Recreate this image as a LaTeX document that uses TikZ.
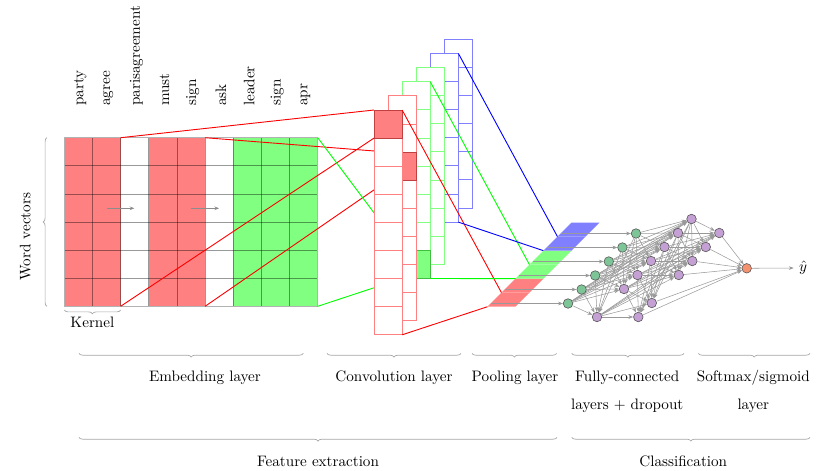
\documentclass[tikz,border=0pt]{standalone}
\usetikzlibrary{decorations.pathreplacing,arrows.meta}
\definecolor{gnodec}{RGB}{125,196,150}
\definecolor{pnodec}{RGB}{196,160,212}
\definecolor{onodec}{RGB}{244,146,112}
\pgfdeclarelayer{bg}
\pgfsetlayers{bg,main}
\begin{document}
\begin{tikzpicture}[x=0.66pt,y=-0.66pt,
  gridline/.style={draw=black,opacity=0.4,line width=0.45pt},
  gridframe/.style={draw=black!30,line width=0.9pt},
  kline/.style={line width=0.6pt},
  mapline/.style={line width=0.6pt},
  edge/.style={draw=black!40,line width=0.35pt,-{Stealth[length=3.2pt,width=2.4pt]}},
  garrow/.style={draw=black!45,line width=0.45pt,-{Stealth[length=3pt,width=2.4pt]}},
  gbrace/.style={draw=black!35,line width=0.45pt,decorate,decoration={brace,amplitude=2.5pt,mirror}},
  vbrace/.style={draw=black!35,line width=0.45pt,decorate,decoration={brace,amplitude=2.5pt}},
  nnode/.style={circle,draw=black!65,line width=0.4pt,inner sep=0pt,minimum size=6.3pt},
  gnode/.style={nnode,fill=gnodec},
  pnode/.style={nnode,fill=pnodec},
  onode/.style={nnode,fill=onodec},
  word/.style={rotate=90,anchor=west,inner sep=0pt},
  lbl/.style={anchor=base,inner sep=0pt},
]
\useasboundingbox (0,0) rectangle (818,471);

% ---------- embedding matrix ----------
\foreach \c in {0,1,3,4} \fill[red!50] ({64.3+\c*28.16},137.7) rectangle ++(28.16,168.6);
\foreach \c in {6,7,8} \fill[green!50] ({64.3+\c*28.16},137.7) rectangle ++(28.16,168.6);
\foreach \c in {1,...,8} \draw[gridline] ({64.3+\c*28.16},137.7) -- ++(0,168.6);
\foreach \r in {1,...,5} \draw[gridline] (64.3,{137.7+\r*28.1}) -- ++(253.44,0);
\draw[gridframe] (64.3,137.7) rectangle ++(253.44,168.6);

\foreach \w [count=\i from 0] in {party,agree,parisagreement,must,sign,ask,leader,sign,apr}
  \node[word] (w\i) at ({64.3+(\i+0.5)*28.16+1.8},106) {\w};

\coordinate (ar1s) at (106.7,208.3); \coordinate (ar1e) at (134.3,208.3);
\coordinate (ar2s) at (190.7,208.3); \coordinate (ar2e) at (219,208.3);
\draw[garrow] (ar1s) -- (ar1e);
\draw[garrow] (ar2s) -- (ar2e);

\coordinate (wvb) at (47,306.3); \coordinate (wvt) at (47,137.7);
\draw[vbrace] (wvb) -- (wvt);
\node[rotate=90,anchor=base,inner sep=0pt] (wv) at (30.5,236.7) {Word vectors};
\coordinate (kbl) at (64.3,310); \coordinate (kbr) at (120.62,310);
\draw[gbrace] (kbl) -- (kbr);
\node[lbl] (kern) at (92.4,327) {Kernel};

% ---------- key points ----------
\coordinate (k1t) at (120.62,137.7); \coordinate (k1b) at (120.62,306.3);
\coordinate (k2t) at (205.1,137.7);  \coordinate (k2b) at (205.1,306.3);
\coordinate (k3t) at (317.74,137.7); \coordinate (k3b) at (317.74,306.3);
\coordinate (c0t) at (374,110);      \coordinate (c0b) at (374,138.1);
\coordinate (c1t) at (388.07,152.08); \coordinate (c1b) at (388.07,180.18);
\coordinate (c2t) at (402.14,250.36); \coordinate (c2b) at (402.14,278.46);
\coordinate (s0t) at (402.14,110);   \coordinate (s0b) at (402.14,334.8);
\coordinate (s2t) at (430.28,81.76); \coordinate (s2b) at (430.28,278.46);
\coordinate (s4t) at (458.42,53.52); \coordinate (s4b) at (458.42,222.12);
\coordinate (q0b) at (487.5,306.7);  \coordinate (q0t) at (501.5,292.7);
\coordinate (q2b) at (515.5,278.7);  \coordinate (q2t) at (529.5,264.7);
\coordinate (q4b) at (543.5,250.7);  \coordinate (q4t) at (557.5,236.7);

% kernel -> feature map lines (behind maps)
\draw[red,kline] (k1t) -- (c0t) (k1b) -- (c0b) (k2t) -- (c1t) (k2b) -- (c1b);
\draw[green,kline] (k3t) -- (c2t) (k3b) -- (c2b);

% ---------- convolution feature maps ----------
\foreach \m/\n/\col/\f in {5/6/blue/-1,4/6/blue/-1,3/7/green/-1,2/7/green/6,1/8/red/2,0/8/red/0} {
  \pgfmathsetmacro\mx{374+14.07*\m}
  \pgfmathsetmacro\my{110-14.12*\m}
  \pgfmathsetmacro\mh{\n*28.1}
  \pgfmathtruncatemacro\nm{\n-1}
  \fill[white] (\mx,\my) rectangle ++(28.14,\mh);
  \foreach \k in {1,...,\nm} \draw[\col!50,mapline] (\mx,{\my+\k*28.1}) -- ++(28.14,0);
  \draw[\col!50,mapline] (\mx,\my) rectangle ++(28.14,\mh);
  \ifnum\f>-1
    \filldraw[fill=\col!50,draw=\col!50!gray,mapline] (\mx,{\my+\f*28.1}) rectangle ++(28.14,28.1);
  \fi
}

% feature map -> pooling lines
\draw[red,kline] (s0t) -- (q0t) (s0b) -- (q0b);
\draw[green,kline] (s2t) -- (q2t) (s2b) -- (q2b);
\draw[blue,kline] (s4t) -- (q4t) (s4b) -- (q4b);

% ---------- pooling layer ----------
\foreach \r/\col in {0/red,1/red,2/green,3/green,4/blue,5/blue}
  \fill[\col!50] ({487.5+14*\r},{306.7-14*\r}) -- ++(28,0) -- ++(14,-14) -- ++(-28,0) -- cycle;

% ---------- network ----------
\foreach \i in {0,...,5} \node[gnode] (g\i) at ({568+13.6*\i},{303.5-14*\i}) {};
\foreach \k in {0,2,3,4,5,6,7} \node[pnode] (a\k) at ({597+13.5*\k},{317-14*\k}) {};
\foreach \k in {0,1,3,4,5,6} \node[pnode] (b\k) at ({638.3+13.5*\k},{317-14*\k}) {};
\node[onode] (o) at (746.7,268.3) {};
\node (yhat) at (803,268) {$\hat{y}$};

\foreach \i in {0,...,5} {
  \coordinate (p\i) at ({490.7+14*\i},{303.5-14*\i});
  \draw[edge] (p\i) -- (g\i);
}
\begin{pgfonlayer}{bg}
\foreach \i in {0,...,5} \foreach \k in {0,2,3,4,5,6,7} \draw[edge] (g\i) -- (a\k);
\foreach \k in {0,2,3,4,5,6,7} \foreach \j in {0,1,3,4,5,6} \draw[edge] (a\k) -- (b\j);
\foreach \j in {0,1,3,4,5,6} \draw[edge] (b\j) -- (o);
\end{pgfonlayer}
\draw[edge] (o) -- (yhat);

% ---------- bottom braces ----------
\draw[gbrace] (79,353.3) -- (303.3,353.3);
\draw[gbrace] (327,353.3) -- (461,353.3);
\draw[gbrace] (472,353.3) -- (556.7,353.3);
\draw[gbrace] (571.7,353.3) -- (684,353.3);
\draw[gbrace] (698.3,353.3) -- (810,353.3);
\draw[gbrace] (79,437.3) -- (557,437.3);
\draw[gbrace] (571.7,437.3) -- (810,437.3);

\node[lbl] (l1) at (205,381.3) {Embedding layer};
\node[lbl] (l2) at (394,381.3) {Convolution layer};
\node[lbl] (l3) at (515,381.3) {Pooling layer};
\node[lbl] (l4) at (627.3,381.3) {Fully-connected};
\node[lbl] (l4b) at (627.3,409.5) {layers + dropout};
\node[lbl] (l5) at (753.3,381.3) {Softmax/sigmoid};
\node[lbl] (l5b) at (753.3,409.5) {layer};
\node[lbl] (l6) at (318,466) {Feature extraction};
\node[lbl] (l7) at (683.3,466) {Classification};
\end{tikzpicture}
\end{document}
